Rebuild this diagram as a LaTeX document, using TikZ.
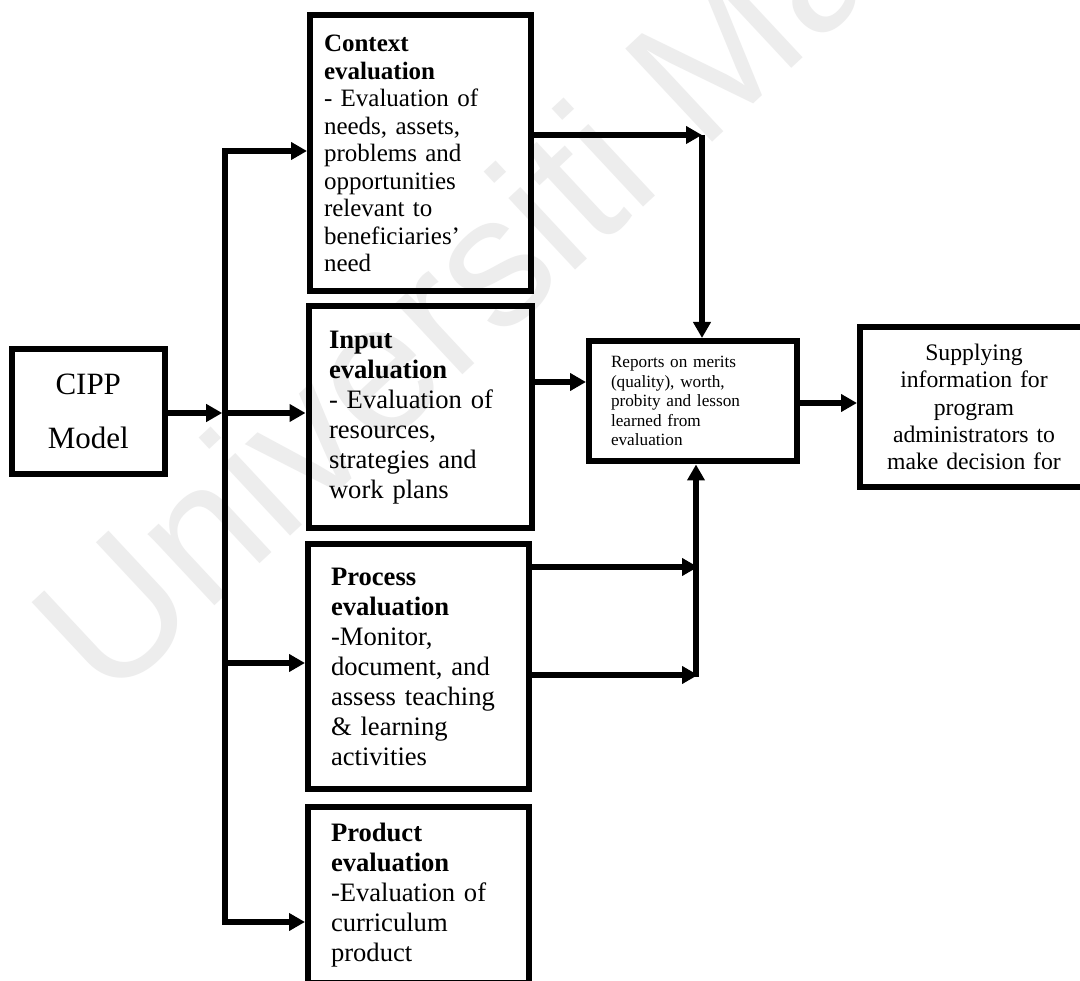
\documentclass[tikz,border=0pt]{standalone}
\usepackage{fontspec}
\setmainfont{Liberation Serif}
\newfontfamily\wmfont{Liberation Sans}
\usetikzlibrary{arrows.meta}

\begin{document}
\begin{tikzpicture}[x=1pt,y=-1pt,
  box/.style={draw=black, line width=6pt, inner sep=0pt},
  evalbox/.style={box, align=left, font=\fontsize{26.6pt}{30pt}\selectfont},
  arr/.style={line width=5.6pt, -{Triangle[length=16pt,width=17pt]}},
]
\useasboundingbox (0,0) rectangle (1080,981);
\clip (0,0) rectangle (1080,981);
\fill[white] (0,0) rectangle (1080,981);

% faint watermark behind the chart
\node[rotate=43, anchor=base west, inner sep=0pt, text=black!7,
      font=\wmfont\fontsize{185pt}{185pt}\selectfont] (wm) at (108,706) {Universiti Malaya};

% source box
\node[box, minimum width=153.5pt, minimum height=125pt, align=center,
      font=\fontsize{31pt}{54pt}\selectfont] (cipp) at (88.25,411.5) {CIPP\\Model};

% the four evaluation components
\node[box, minimum width=220.5pt, minimum height=276pt, text width=192.5pt, align=left,
      font=\fontsize{25pt}{27.5pt}\selectfont] (ctx) at (420.25,153.5)
  {\textbf{Context}\\\textbf{evaluation}\\- Evaluation of\\needs, assets,\\problems and\\opportunities\\relevant to\\beneficiaries’\\need};

\node[evalbox, minimum width=223pt, minimum height=221.5pt, text width=182pt] (inp) at (420,417.25)
  {\textbf{Input}\\\textbf{evaluation}\\- Evaluation of\\resources,\\strategies and\\work plans};

\node[evalbox, minimum width=221pt, minimum height=244pt, text width=175pt] (proc) at (418.5,666.5)
  {\textbf{Process}\\\textbf{evaluation}\\-Monitor,\\document, and\\assess teaching\\\& learning\\activities};

\node[evalbox, minimum width=221pt, minimum height=176pt, text width=175pt] (prod) at (418.5,895)
  {\textbf{Product}\\\textbf{evaluation}\\-Evaluation of\\curriculum\\product};

% reports and decision boxes
\node[box, minimum width=208pt, minimum height=120.5pt, text width=164pt, align=left,
      font=\fontsize{17.2pt}{19.5pt}\selectfont] (rep) at (693,401.25)
  {Reports on merits\\(quality), worth,\\probity and lesson\\learned from\\evaluation};

\node[box, minimum width=228pt, minimum height=160pt, text width=200pt, align=center,
      font=\fontsize{23.7pt}{27.2pt}\selectfont] (sup) at (974,407)
  {Supplying\\information for\\program\\administrators to\\make decision for};

% junction points
\coordinate (bTop) at (225,151);
\coordinate (bIn)  at (225,413);
\coordinate (bPr)  at (225,663);
\coordinate (bBot) at (225,922);
\coordinate (cTip) at (222.2,413);
\coordinate (jC)   at (702,135);
\coordinate (yIn)  at (0,382);
\coordinate (jP1)  at (698,567);
\coordinate (jP2)  at (698,675);
\coordinate (jUp)  at (696,677);
\coordinate (yRep) at (0,403);

% distribution bus
\draw[arr] (cipp.east |- bIn) -- (cTip);
\draw[arr] (bPr) -- (bTop) -- (bTop -| ctx.west);
\draw[arr] (bPr) -- (bBot) -- (bBot -| prod.west);
\draw[arr] (bIn) -- (bIn -| inp.west);
\draw[arr] (bPr) -- (bPr -| proc.west);

% collection into the reports box
\draw[arr] (ctx.east |- jC) -- (jC);
\draw[arr] (jC) -- (jC |- rep.north);
\draw[arr] (inp.east |- yIn) -- (rep.west |- yIn);
\draw[arr] (proc.east |- jP1) -- (jP1);
\draw[arr] (proc.east |- jP2) -- (jP2);
\draw[arr] (jUp) -- (jUp |- rep.south);

% reports to decision box
\draw[arr] (rep.east |- yRep) -- (sup.west |- yRep);
\end{tikzpicture}
\end{document}
